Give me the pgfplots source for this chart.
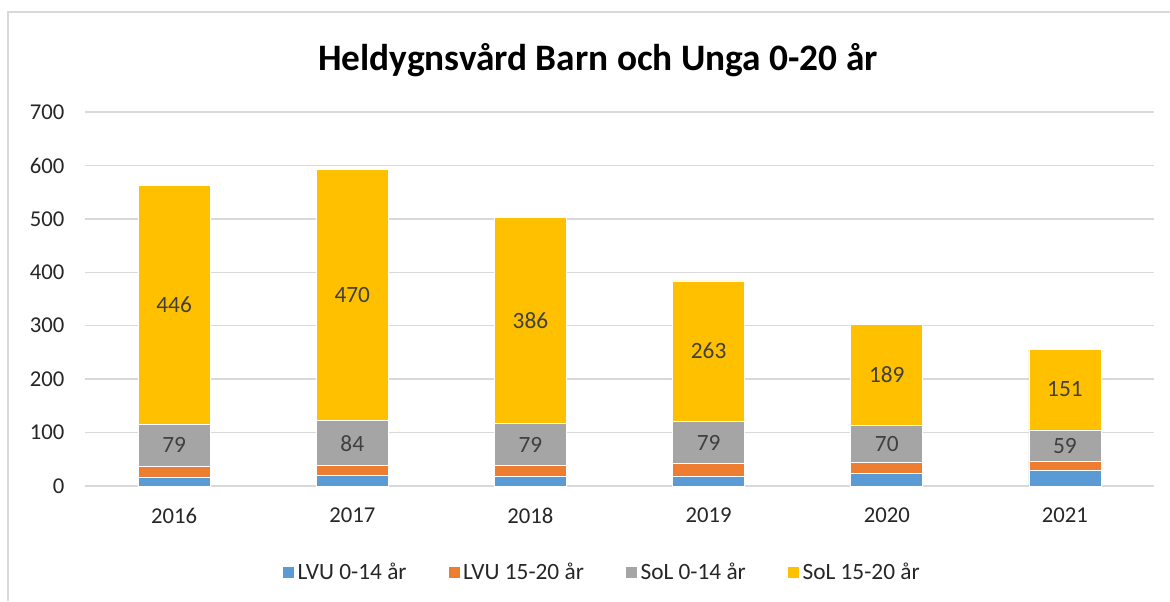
\documentclass[border=0pt]{standalone}
\usepackage{pgfplots}
\pgfplotsset{compat=1.18}
\usepackage{fontspec}
\setmainfont{Carlito}
\definecolor{cblue}{HTML}{5B9BD5}
\definecolor{corange}{HTML}{ED7D31}
\definecolor{cgray}{HTML}{A5A5A5}
\definecolor{cgold}{HTML}{FFC000}
\definecolor{gridc}{HTML}{D9D9D9}
\definecolor{labc}{HTML}{404040}
\definecolor{tickc}{HTML}{262626}
\begin{document}
\begin{tikzpicture}
\useasboundingbox (0pt,0pt) rectangle (877.5pt,450.75pt);
\draw[gridc, line width=1.2pt] (6pt,0pt) -- (6pt,441.75pt) -- (877.5pt,441.75pt);
\node[font=\bfseries\fontsize{28}{33}\selectfont, text=black] at (448.5pt,405.75pt) {Heldygnsvård Barn och Unga 0-20 år};
\begin{axis}[
  at={(63.75pt,86.25pt)}, anchor=south west,
  scale only axis, width=801.75pt, height=280.5pt,
  ybar stacked, bar width=54pt,
  xmin=-0.5, xmax=5.5, ymin=0, ymax=700,
  xtick={0,1,2,3,4,5},
  xticklabels={2016,2017,2018,2019,2020,2021},
  ytick={0,100,...,700},
  ymajorgrids, grid style={gridc, line width=1pt},
  axis line style={draw=none},
  major tick length=0pt,
  tick label style={font=\fontsize{17}{20}\selectfont, text=tickc},
  /pgf/number format/assume math mode=true,
  yticklabel style={xshift=-12pt},
  xticklabel style={yshift=-13pt},
  legend columns=4,
  legend style={draw=none, at={(0.484,-0.23)}, anchor=center,
    font=\fontsize{17.5}{20}\selectfont, text=tickc,
    /tikz/every even column/.append style={column sep=29pt}},
  legend image code/.code={\fill[#1] (0pt,-4.5pt) rectangle (9pt,4.5pt);},
  every node near coord/.append style={font=\fontsize{17.5}{20}\selectfont, text=labc, anchor=center},
]
\addplot[fill=cblue, draw=white, line width=0.5pt] coordinates {(0,17) (1,20) (2,19) (3,19) (4,23) (5,29)};
\addlegendentry{LVU 0-14 år}
\addplot[fill=corange, draw=white, line width=0.5pt] coordinates {(0,20) (1,18) (2,19) (3,23) (4,21) (5,17)};
\addlegendentry{LVU 15-20 år}
\addplot[fill=cgray, draw=white, line width=0.5pt, nodes near coords]
  coordinates {(0,79) (1,84) (2,79) (3,79) (4,70) (5,59)};
\addlegendentry{SoL 0-14 år}
\addplot[fill=cgold, draw=white, line width=0.5pt, nodes near coords]
  coordinates {(0,446) (1,470) (2,386) (3,263) (4,189) (5,151)};
\addlegendentry{SoL 15-20 år}
\end{axis}
\end{tikzpicture}
\end{document}
